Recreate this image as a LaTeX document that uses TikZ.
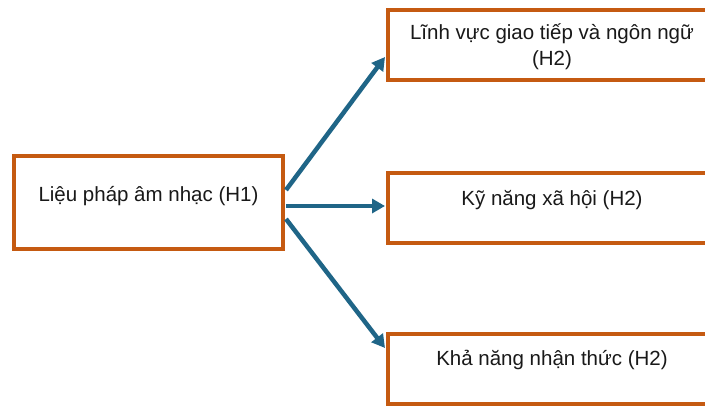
\documentclass[tikz,border=0pt]{standalone}
\usepackage{fontspec}
\setmainfont{Liberation Sans}
\usetikzlibrary{arrows.meta}
\definecolor{boxorange}{HTML}{C55A11}
\definecolor{arrowblue}{HTML}{1F6587}
\begin{document}
\begin{tikzpicture}[x=1pt,y=-1pt,
  box/.style={draw=boxorange, line width=4pt, fill=white, rectangle, inner sep=0pt},
  lbl/.style={font=\fontsize{20.5}{26}\selectfont, text=black!90, align=center, inner sep=0pt},
  link/.style={draw=arrowblue, line width=4.5pt, -{Triangle[length=13pt,width=14pt]}}]
  \useasboundingbox (0,0) rectangle (705,407);
  \clip (0,0) rectangle (705,407);
  \fill[white] (0,0) rectangle (705,407);
  % source box
  \node[box, minimum width=269pt, minimum height=93pt] (h1) at (148.5,202.5) {};
  \node[lbl] (h1t) at ([yshift=6pt]h1.center) {Liệu pháp âm nhạc (H1)};
  % target boxes (they run past the right edge)
  \node[box, minimum width=328pt, minimum height=70pt] (b1) at (552,45) {};
  \node[lbl] (b1t) at ([yshift=-1.5pt]b1.center) {Lĩnh vực giao tiếp và ngôn ngữ\\(H2)};
  \node[box, minimum width=328pt, minimum height=70pt] (b2) at (552,208) {};
  \node[lbl] (b2t) at ([yshift=8pt]b2.center) {Kỹ năng xã hội (H2)};
  \node[box, minimum width=328pt, minimum height=70pt] (b3) at (552,369) {};
  \node[lbl] (b3t) at ([yshift=9pt]b3.center) {Khả năng nhận thức (H2)};
  % connectors
  \draw[link] ([xshift=1pt,yshift=12.5pt]h1.east) -- ([xshift=-1pt,yshift=-12pt]b1.west);
  \draw[link] ([xshift=1pt,yshift=-3.5pt]h1.east) -- ([xshift=-1pt,yshift=2pt]b2.west);
  \draw[link] ([xshift=1pt,yshift=-16.5pt]h1.east) -- ([xshift=-1pt,yshift=21pt]b3.west);
\end{tikzpicture}
\end{document}
